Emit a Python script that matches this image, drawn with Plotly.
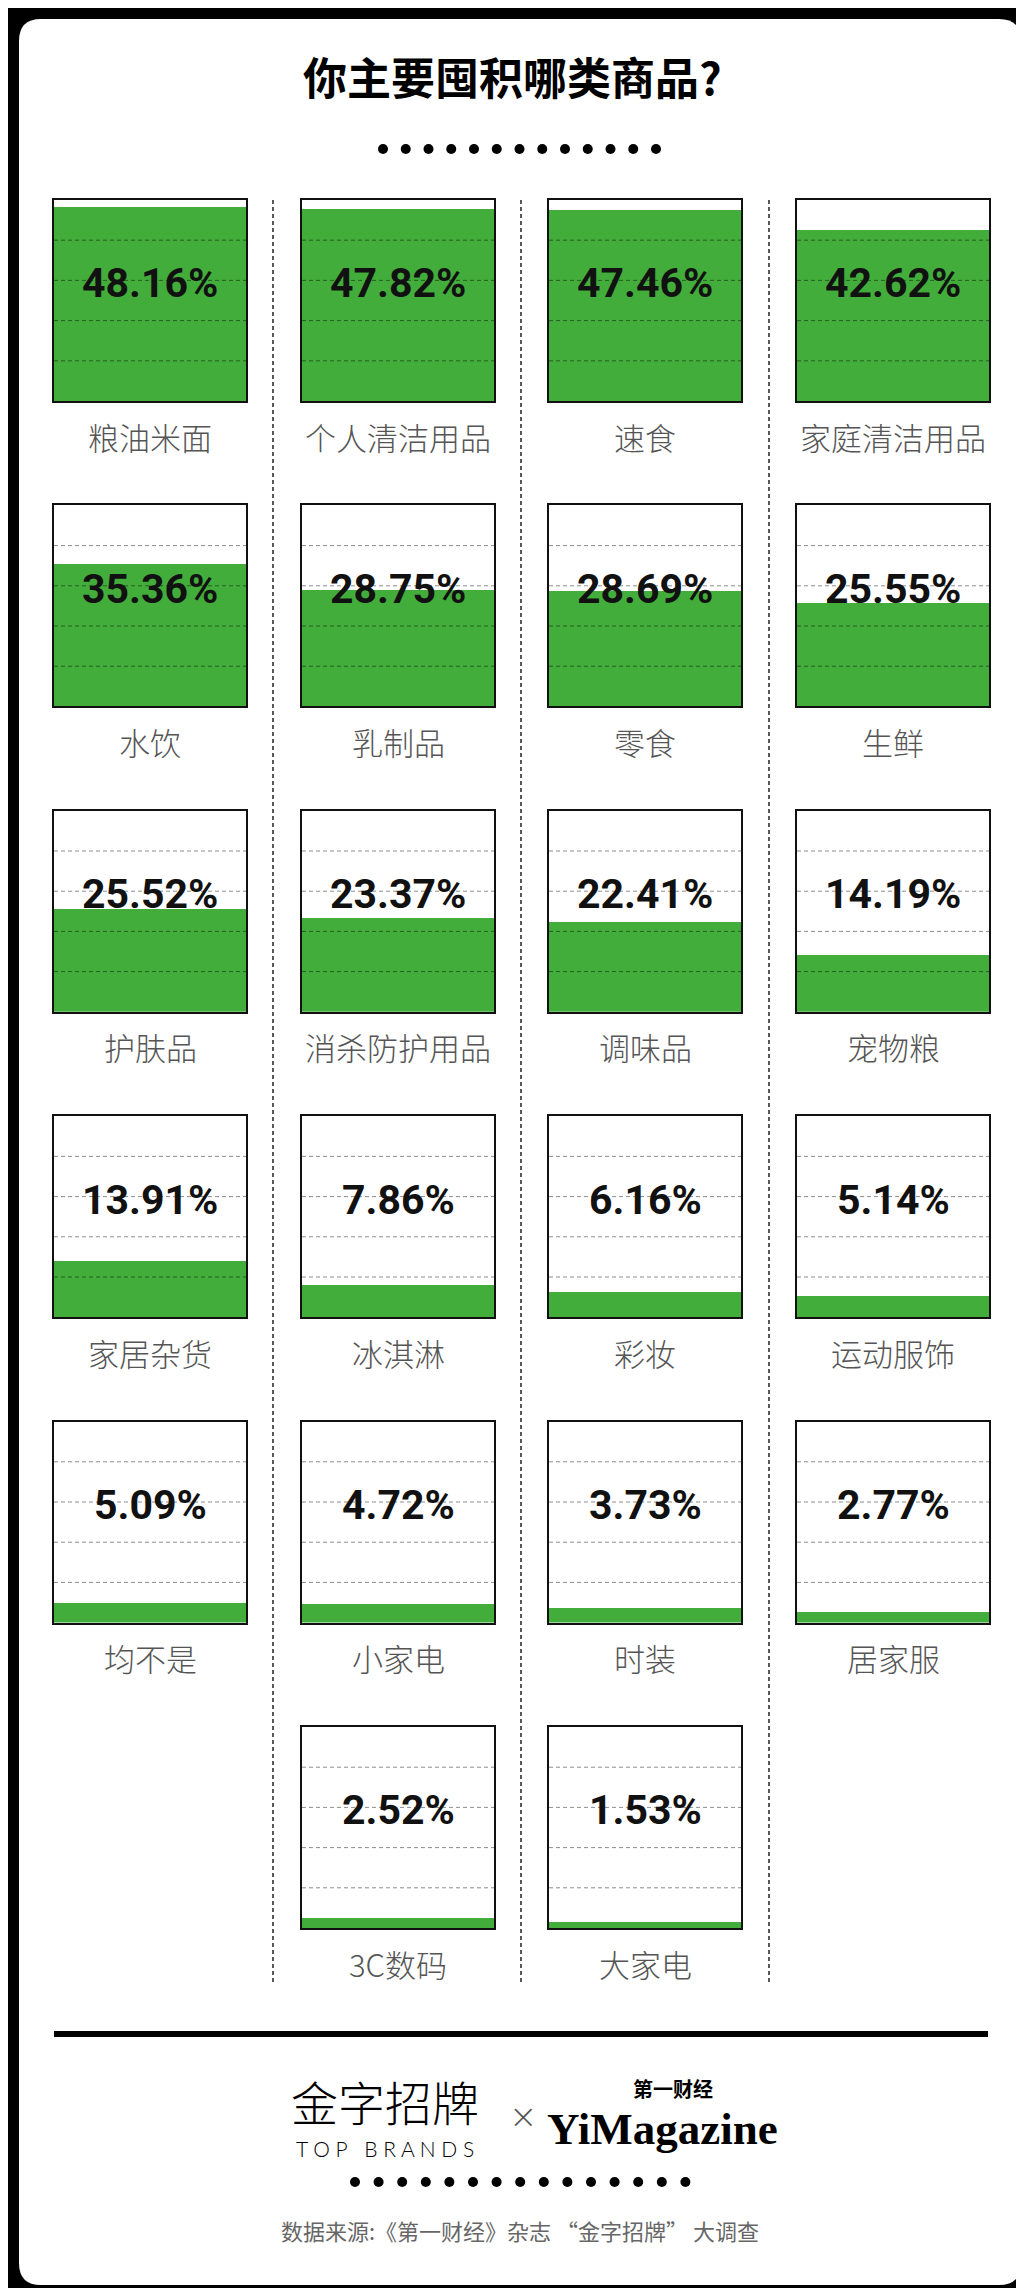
import plotly.graph_objects as go

# ---------------- data ----------------
categories = ["粮油米面", "个人清洁用品", "速食", "家庭清洁用品",
              "水饮", "乳制品", "零食", "生鲜",
              "护肤品", "消杀防护用品", "调味品", "宠物粮",
              "家居杂货", "冰淇淋", "彩妆", "运动服饰",
              "均不是", "小家电", "时装", "居家服",
              "3C数码", "大家电"]
values = [48.16, 47.82, 47.46, 42.62,
          35.36, 28.75, 28.69, 25.55,
          25.52, 23.37, 22.41, 14.19,
          13.91, 7.86, 6.16, 5.14,
          5.09, 4.72, 3.73, 2.77,
          2.52, 1.53]
axis_max = 50
grid_values = [10, 20, 30, 40]
title_text = "你主要囤积哪类商品?"
source_text = "数据来源:《第一财经》杂志 “金字招牌” 大调查"

# ---------------- layout constants (pixels) ----------------
W, H = 1024, 2288
GREEN = "#43ad3b"
col_left = [46, 294, 541, 789]
box_w, box_h = 192, 201
row_top0, row_pitch = 192, 305.4
CJK = "Noto Sans CJK SC, Noto Sans, sans-serif"
NUMF = "Roboto, Liberation Sans, sans-serif"


def px(x):
    return x / W


def py(y):
    return 1 - y / H


fig = go.Figure()
layout = {}
shapes = []
annotations = []

for i, (cat, v) in enumerate(zip(categories, values)):
    row = i // 4
    col = i % 4
    if row == 5:  # last row holds two items, placed in columns 2-3
        col = col + 1
    left = col_left[col]
    top = row_top0 + row * row_pitch
    k = "" if i == 0 else str(i + 1)
    xa, ya = "x" + k, "y" + k
    layout["xaxis" + k] = dict(domain=[px(left), px(left + box_w)], range=[-0.5, 0.5],
                               anchor=ya, showgrid=False, zeroline=False, showticklabels=False,
                               ticks="", showline=True, mirror=True, linecolor="#111",
                               linewidth=2, fixedrange=True)
    layout["yaxis" + k] = dict(domain=[py(top + box_h), py(top)], range=[0, axis_max],
                               anchor=xa, showgrid=False, zeroline=False, showticklabels=False,
                               ticks="", showline=True, mirror=True, linecolor="#111",
                               linewidth=2, fixedrange=True)
    fig.add_trace(go.Bar(x=[0], y=[v], width=1, marker=dict(color=GREEN, line=dict(width=0)),
                         xaxis=xa, yaxis=ya, hoverinfo="skip", showlegend=False))
    for g in grid_values:
        shapes.append(dict(type="line", xref=xa + " domain", yref=ya, x0=0, x1=1, y0=g, y1=g,
                           line=dict(color="rgba(0,0,0,0.45)", width=1, dash="4px,3px"),
                           layer="above"))
    annotations.append(dict(text="%.2f%%" % v,
                            xref=xa + " domain", yref=ya + " domain",
                            x=0.5, y=0.585, xanchor="center", yanchor="middle", showarrow=False,
                            font=dict(family=NUMF, size=41, color="#111", weight="bold")))
    annotations.append(dict(text=cat, xref=xa + " domain", yref=ya + " domain",
                            x=0.5, y=-0.175, xanchor="center", yanchor="middle", showarrow=False,
                            font=dict(family=CJK, size=31, color="#555", weight=300)))

# ---------------- decorations ----------------
# white rounded card on black background
x0, x1, y0, y1, r = 11, 1013, 11, 2277, 22
path = ("M {a},{b} L {c},{b} Q {x1},{b} {x1},{d} L {x1},{e} Q {x1},{f} {c},{f} "
        "L {a},{f} Q {x0},{f} {x0},{e} L {x0},{d} Q {x0},{b} {a},{b} Z").format(
    a=px(x0 + r), b=py(y0), c=px(x1 - r), d=py(y0 + r), e=py(y1 - r), f=py(y1),
    x0=px(x0), x1=px(x1))
shapes.insert(0, dict(type="path", xref="paper", yref="paper", path=path,
                      fillcolor="white", line=dict(width=0), layer="below"))

# vertical dashed separators
for sx in [265, 513, 761]:
    shapes.append(dict(type="line", xref="paper", yref="paper", x0=px(sx), x1=px(sx),
                       y0=py(192), y1=py(1977),
                       line=dict(color="#222", width=1.5, dash="4px,3px")))

# thick horizontal rule
shapes.append(dict(type="line", xref="paper", yref="paper", x0=px(46), x1=px(980),
                   y0=py(2026), y1=py(2026), line=dict(color="black", width=6)))


# dot rows
def dots(cx0, step, count, cy, d=10):
    for j in range(count):
        cx = cx0 + j * step
        shapes.append(dict(type="circle", xref="paper", yref="paper",
                           x0=px(cx - d / 2), x1=px(cx + d / 2), y0=py(cy + d / 2), y1=py(cy - d / 2),
                           fillcolor="black", line=dict(width=0)))


dots(375, 22.75, 13, 141)
dots(347, 23.6, 15, 2174)

# texts
annotations.append(dict(text=title_text, xref="paper", yref="paper", x=px(504), y=py(68),
                        xanchor="center", yanchor="middle", showarrow=False,
                        font=dict(family=CJK, size=44, color="black", weight="bold")))
annotations.append(dict(text="金字招牌", xref="paper", yref="paper", x=px(377), y=py(2092),
                        xanchor="center", yanchor="middle", showarrow=False,
                        font=dict(family=CJK, size=47, color="black", weight=300)))
annotations.append(dict(text="T O P   B R A N D S", xref="paper", yref="paper", x=px(377), y=py(2140),
                        xanchor="center", yanchor="middle", showarrow=False,
                        font=dict(family="Lato, DejaVu Sans, sans-serif", size=21, color="black", weight=300)))
annotations.append(dict(text="×", xref="paper", yref="paper", x=px(515), y=py(2108),
                        xanchor="center", yanchor="middle", showarrow=False,
                        font=dict(family="DejaVu Sans, sans-serif", size=34, color="#555", weight=300)))
annotations.append(dict(text="第一财经", xref="paper", yref="paper", x=px(665), y=py(2080),
                        xanchor="center", yanchor="middle", showarrow=False,
                        font=dict(family=CJK, size=20, color="black", weight="bold")))
annotations.append(dict(text="YiMagazine", xref="paper", yref="paper", x=px(537), y=py(2121),
                        xanchor="left", yanchor="middle", showarrow=False,
                        font=dict(family="Liberation Serif, DejaVu Serif, serif", size=45,
                                  color="black", weight="bold")))
annotations.append(dict(text=source_text, xref="paper", yref="paper", x=px(512), y=py(2222),
                        xanchor="center", yanchor="middle", showarrow=False,
                        font=dict(family=CJK, size=22, color="#666")))

fig.update_layout(width=W, height=H, margin=dict(l=0, r=0, t=0, b=0),
                  paper_bgcolor="black", plot_bgcolor="white",
                  shapes=shapes, annotations=annotations, showlegend=False,
                  bargap=0, **layout)

fig.write_html("out.html", config={"displayModeBar": False})
